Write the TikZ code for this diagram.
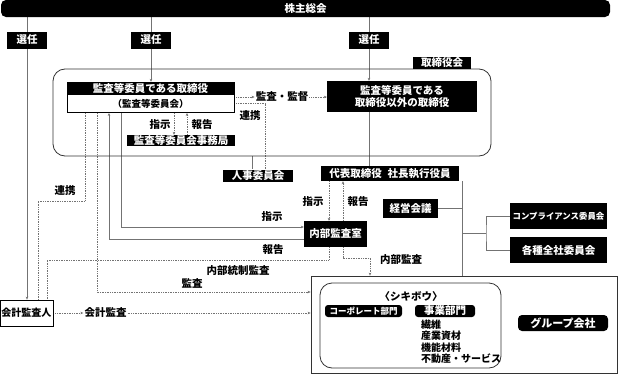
\documentclass[tikz,border=0pt]{standalone}
\usepackage{fontspec}
\setmainfont{Noto Sans CJK JP}
\usetikzlibrary{arrows.meta, positioning, backgrounds}

\begin{document}
\begin{tikzpicture}[
  x=1pt, y=-1pt,
  font=\fontsize{10.5}{11.5}\selectfont\bfseries,
  >={Stealth[length=3pt,width=2.6pt]},
  % Black name boxes
  blackbox/.style={
    rectangle, fill=black, text=white, inner sep=0pt, align=center
  },
  % White framed boxes
  whitebox/.style={
    rectangle, draw=black, fill=white, line width=0.8pt, inner sep=0pt, align=center
  },
  % Plain labels on connectors
  txt/.style={inner sep=1pt},
  % Connector styles
  solidline/.style={draw=black!55, line width=0.7pt},
  dotline/.style={draw=black!55, line width=0.7pt, dash pattern=on 0.7pt off 1pt},
  % Rounded frames
  frame/.style={draw=black!80, line width=0.8pt, rounded corners=12pt, inner sep=0pt}
]

\useasboundingbox (0,0) rectangle (619,375);

% === SHAREHOLDERS (TOP BAR) ===
\node[blackbox, rounded corners=5pt, minimum width=609pt, minimum height=17pt] (soukai) at (305.5,8.5) {株主総会};
\node[blackbox, minimum width=40pt, minimum height=17pt] (senA) at (27,40) {選任};
\node[blackbox, minimum width=40pt, minimum height=17pt] (senB) at (151,40) {選任};
\node[blackbox, minimum width=40pt, minimum height=17pt] (senC) at (369,40) {選任};

% === BOARD OF DIRECTORS ===
\node[frame, minimum width=438pt, minimum height=87pt] (board) at (272,112.5) {};
\node[blackbox, minimum width=58pt, minimum height=12pt] (boardTag) at (442,63) {取締役会};
\node[blackbox, draw=black, minimum width=167pt, minimum height=12pt] (kansaHead) at (150.5,88) {監査等委員である取締役};
\node[whitebox, minimum width=167pt, minimum height=18pt, below=0pt of kansaHead,
  font=\fontsize{9.5}{10}\selectfont\bfseries] (kansaBody) {（監査等委員会）};
\node[blackbox, minimum width=150pt, minimum height=31pt] (others) at (402,96.5) {監査等委員である\\取締役以外の取締役};
\node[txt] (kantoku) at (282,97) {監査・監督};
\node[txt] (renkeiA) at (250,116) {連携};
\node[blackbox, minimum width=108pt, minimum height=11pt] (jimu) at (181,140.5) {監査等委員会事務局};
\node[txt] (shijiA) at (160,125) {指示};
\node[txt] (houkokuA) at (202,125) {報告};
\node[blackbox, minimum width=70pt, minimum height=12pt] (jinji) at (258,175.5) {人事委員会};

% === EXECUTION ===
\node[blackbox, minimum width=138pt, minimum height=15pt] (daihyo) at (390,173.5) {代表取締役\hspace{6pt}社長執行役員};
\node[blackbox, minimum width=55pt, minimum height=19pt] (keiei) at (410.5,208) {経営会議};
\node[blackbox, minimum width=97pt, minimum height=26pt,
  font=\fontsize{8.4}{10}\selectfont\bfseries] (comp) at (558.5,216) {コンプライアンス委員会};
\node[blackbox, minimum width=97pt, minimum height=26pt] (kakushu) at (558.5,250) {各種全社委員会};
\node[blackbox, minimum width=63pt, minimum height=26pt] (naibu) at (335.5,234) {内部監査室};
\node[txt] (shijiB) at (313,202) {指示};
\node[txt] (houkokuB) at (358,202) {報告};
\node[txt] (shijiC) at (272,217) {指示};
\node[txt] (houkokuC) at (273,250) {報告};

% === ACCOUNTING AUDITOR ===
\node[whitebox, minimum width=53pt, minimum height=26pt,
  font=\fontsize{10}{11}\selectfont\bfseries] (kaikeinin) at (26.5,313) {会計監査人};
\node[txt] (kaikeiLabel) at (105.5,313) {会計監査};
\node[txt] (renkeiB) at (65,191) {連携};
\node[txt] (toseiLabel) at (238,271) {内部統制監査};
\node[txt] (kansaLabel) at (192,283) {監査};
\node[txt] (naibuLabel) at (401,260) {内部監査};

% === GROUP ===
\node[whitebox, draw=black!80, minimum width=306pt, minimum height=97pt] (group) at (464,324.5) {};
\node[frame, minimum width=181pt, minimum height=85pt] (shikibo) at (410.5,325.5) {};
\node[txt] (shikiboTag) at (411,297) {〈シキボウ〉};
\node[blackbox, rounded corners=3pt, minimum width=77pt, minimum height=12pt,
  font=\fontsize{8.5}{10}\selectfont\bfseries] (corp) at (363.5,311) {コーポレート部門};
\node[blackbox, rounded corners=3pt, minimum width=60pt, minimum height=12pt] (jigyo) at (445,311) {事業部門};
\node[txt, anchor=north west, align=left, inner sep=0pt,
  font=\fontsize{10}{11.2}\selectfont\bfseries] (bizlist) at (421,320) {繊維\\産業資材\\機能材料\\不動産・サービス};
\node[blackbox, rounded corners=4pt, minimum width=90pt, minimum height=16pt,
  font=\fontsize{11}{12}\selectfont\bfseries] (grpco) at (563,323) {グループ会社};

% === PORTS ===
\coordinate (jimuIn) at ([xshift=-7pt]jimu.north);
\coordinate (jimuOut) at ([xshift=6pt]jimu.north);
\coordinate (jinjiTop) at ([xshift=-6pt]jinji.north);
\coordinate (jinjiLink) at ([xshift=7pt]jinji.north);
\coordinate (naibuIn) at ([xshift=-6.5pt]naibu.north);
\coordinate (naibuOut) at ([xshift=7.5pt]naibu.north);
\coordinate (naibuLeft) at ([xshift=-6.5pt]naibu.south);
\coordinate (naibuRight) at ([xshift=7.5pt]naibu.south);
\coordinate (naibuShiji) at ([yshift=7pt]naibu.west);
\coordinate (naibuHoukoku) at ([yshift=-5pt]naibu.west);
\coordinate (kansaShiji) at ([xshift=-29.5pt]kansaBody.south);
\coordinate (kansaHoukoku) at ([xshift=-41.5pt]kansaBody.south);
\coordinate (kansaAudit) at ([xshift=-53.5pt]kansaBody.south);
\coordinate (kansaLink) at ([xshift=-65.5pt]kansaBody.south);
\coordinate (groupAudit) at ([yshift=32.5pt]group.west);
\coordinate (renkeiTurn) at (38,201);
\coordinate (houkokuTurn) at (47,260);
\coordinate (naibuTurn) at (370,258);
\coordinate (spine) at (462,0);
\coordinate (fork) at (486,233);

% === CONNECTORS (BACKGROUND) ===
\begin{scope}[on background layer]
  % election
  \draw[solidline, ->] (soukai.south -| senA) -- (kaikeinin.north -| senA);
  \draw[solidline, ->] (soukai.south -| senB) -- (kansaHead.north -| senB);
  \draw[solidline, ->] (soukai.south -| senC) -- (others.north -| senC);
  \draw[solidline] (others.south -| senC) -- (daihyo.north -| senC);
  % inside the board
  \draw[dotline, ->] (kantoku.west -| kansaBody.east) -- (kantoku.west);
  \draw[dotline, ->] (kantoku.east) -- (kantoku.east -| others.west);
  \draw[dotline, ->] (jimuIn |- kansaBody.south) -- (jimuIn);
  \draw[dotline, ->] (jimuOut) -- (jimuOut |- kansaBody.south);
  \draw[solidline] (jinjiTop |- board.south) -- (jinjiTop);
  \draw[dotline] (kansaBody.east) -| (jinjiLink);
  % execution side
  \draw[solidline] (daihyo.south -| spine) -- (group.north -| spine);
  \draw[solidline] (keiei.east) -- (keiei.east -| spine);
  \draw[solidline] (spine |- fork) -- (fork);
  \draw[solidline] (comp.west) -| (fork) |- (kakushu.west);
  \draw[dotline, ->] (naibuIn |- daihyo.south) -- (naibuIn);
  \draw[dotline, ->] (naibuOut) -- (naibuOut |- daihyo.south);
  % audit committee and internal audit
  \draw[solidline, ->] (kansaShiji) |- (naibuShiji);
  \draw[solidline, ->] (naibuHoukoku) -| (kansaHoukoku);
  \draw[dotline] (kansaLink) |- (renkeiTurn) -- (renkeiTurn |- kaikeinin.north);
  \draw[dotline] (naibuLeft) |- (houkokuTurn) -- (houkokuTurn |- kaikeinin.north);
  \draw[dotline, ->] (kansaAudit) |- (groupAudit);
  \draw[dotline, ->] (naibuRight) |- (naibuTurn) -- (naibuTurn |- group.north);
  % accounting audit
  \draw[dotline, ->] (kaikeinin.east) -- (kaikeiLabel.west);
  \draw[dotline, ->] (kaikeiLabel.east) -- (kaikeiLabel.east -| group.west);
\end{scope}

\end{tikzpicture}
\end{document}
